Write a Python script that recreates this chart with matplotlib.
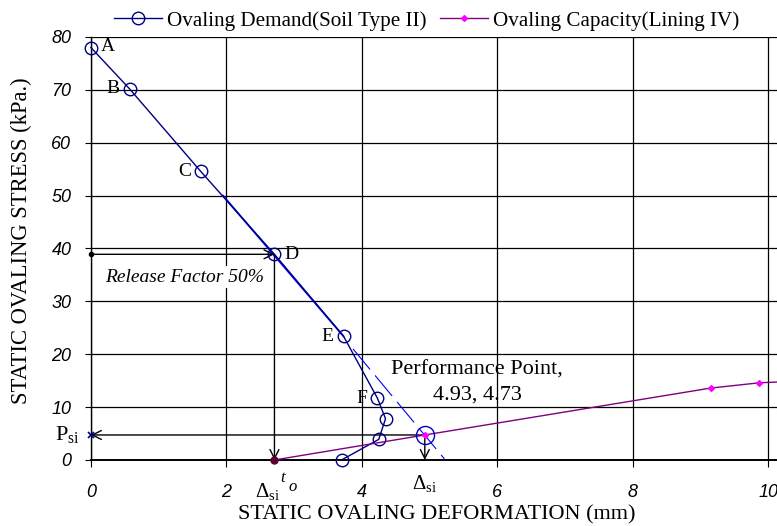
import matplotlib.pyplot as plt

# Ovaling demand curve (Soil Type II)
demand_x = [0.0, 0.57, 1.62, 2.71, 3.73, 4.23, 4.35, 4.25, 3.70]
demand_y = [78.0, 70.2, 54.6, 38.9, 23.4, 11.7, 7.8, 3.9, 0.0]
point_labels = ['A', 'B', 'C', 'D', 'E', 'F']

# Ovaling capacity curve (Lining IV)
capacity_x = [2.71, 4.93, 9.15, 9.87, 10.6]
capacity_y = [0.0, 4.73, 13.6, 14.6, 15.0]

perf_x, perf_y = 4.93, 4.73
release_x, release_y = 2.71, 38.9
tangent_x = [3.87, 5.22]
tangent_y = [21.0, 0.2]
upper_tangent_x = [1.95, 3.73]
upper_tangent_y = [50.0, 23.4]

SERIF = 'Liberation Serif'
SANS = 'Liberation Sans'
plt.rcParams['mathtext.fontset'] = 'custom'
plt.rcParams['mathtext.rm'] = SERIF
plt.rcParams['mathtext.it'] = SERIF + ':italic'

fig = plt.figure(figsize=(7.77, 5.26), dpi=100)
ax = fig.add_axes([0.117, 0.1255, 0.883, 0.8042])

ax.set_xlim(0, 10.13)
ax.set_ylim(0, 80)
ax.set_xticks([0, 2, 4, 6, 8, 10])
ax.set_yticks(range(0, 81, 10))
ax.grid(True, color='black', lw=0.9)
ax.set_axisbelow(True)
for s in ['top', 'right']:
    ax.spines[s].set_visible(False)
ax.spines['bottom'].set_linewidth(1.4)
ax.spines['left'].set_linewidth(1.0)
ax.tick_params(axis='x', direction='out', length=5, pad=12)
ax.tick_params(axis='y', direction='out', length=4, pad=10)
for lab in ax.get_xticklabels() + ax.get_yticklabels():
    lab.set_fontfamily(SANS)
    lab.set_fontstyle('italic')
    lab.set_fontsize(13)

ax.set_xlabel('STATIC OVALING DEFORMATION (mm)', family=SERIF, fontsize=16)
ax.xaxis.set_label_coords(0.504, -0.108)
ax.set_ylabel('STATIC OVALING STRESS (kPa.)', family=SERIF, fontsize=16.3)
ax.yaxis.set_label_coords(-0.086, 0.518)

# tangent helper lines
ax.plot(upper_tangent_x, upper_tangent_y, color='#0000ff', lw=1.3, zorder=3)
ax.plot(tangent_x, tangent_y, color='#0000ff', lw=0.8, dashes=(24, 7), zorder=3)

dem, = ax.plot(demand_x, demand_y, color='#000080', lw=1.0, marker='o', ms=9,
               mfc='none', mec='#000080', mew=1.0, clip_on=False, zorder=4,
               label='Ovaling Demand(Soil Type II)')
cap, = ax.plot(capacity_x, capacity_y, color='#800080', lw=1.0, marker='D', ms=3,
               mfc='#ff00ff', mec='#ff00ff', clip_on=True, zorder=4,
               label='Ovaling Capacity(Lining IV)')
ax.plot([release_x], [0], 'o', color='#5a0030', ms=5, clip_on=False, zorder=5)
ax.plot([perf_x], [perf_y], 'o', ms=13, mfc='none', mec='#0000cc', mew=1.0, zorder=5)

# point letters
offsets = [(7, 1, 'left'), (-7, 0, 'right'), (-7, 0, 'right'), (7, 0, 'left'),
           (-7, 0, 'right'), (-7, 0, 'right')]
for lbl, x, y, (dx, dy, ha) in zip(point_labels, demand_x, demand_y, offsets):
    ax.annotate(lbl, (x, y), xytext=(dx, dy), textcoords='offset points',
                ha=ha, va='center', family=SERIF, fontsize=14)

# arrows
arrow = dict(arrowstyle='->', color='black', lw=1.0, shrinkA=0, shrinkB=0,
             mutation_scale=16)
ax.annotate('', xy=(release_x, release_y), xytext=(0, release_y), arrowprops=arrow,
            annotation_clip=False)
ax.plot([0], [release_y], 'o', color='black', ms=3, clip_on=False, zorder=5)
ax.annotate('', xy=(release_x, 0), xytext=(release_x, release_y), arrowprops=arrow,
            annotation_clip=False)
ax.annotate('', xy=(0, perf_y), xytext=(perf_x, perf_y), arrowprops=arrow,
            annotation_clip=False)
ax.plot([0], [perf_y], 'x', color='#000080', ms=4, mew=1.2, clip_on=False, zorder=5)
ax.annotate('', xy=(perf_x, 0), xytext=(perf_x, perf_y), arrowprops=arrow,
            annotation_clip=False)

ax.text(1.38, 34.6, 'Release Factor 50%', family=SERIF, style='italic', fontsize=14,
        ha='center', va='center', zorder=3,
        bbox=dict(facecolor='white', edgecolor='none', pad=2))
ax.text(5.7, 14.65, 'Performance Point,\n4.93, 4.73', family=SERIF, fontsize=16,
        ha='center', va='center', linespacing=1.4, zorder=6)

ax.text(2.6, -3.9, r'$\Delta_{\mathrm{si}}$', fontsize=15, ha='center',
        va='top', clip_on=False)
ax.text(2.79, -1.6, r'$t$', fontsize=12, ha='left', va='top', clip_on=False)
ax.text(2.91, -3.2, r'$o$', fontsize=12, ha='left', va='top', clip_on=False)
ax.text(4.93, -2.4, r'$\Delta_{\mathrm{si}}$', fontsize=15, ha='center',
        va='top', clip_on=False)
ax.text(-0.17, perf_y, r'P$_{\mathrm{si}}$', family=SERIF, fontsize=16, ha='right',
        va='center', clip_on=False)

fig.legend(handles=[dem, cap], loc='upper center', bbox_to_anchor=(0.549, 1.015),
           ncol=2, frameon=False, prop={'family': SERIF, 'size': 15.2},
           handlelength=2.3, columnspacing=0.6, handletextpad=0.25)

fig.savefig('out.png', dpi=100)
